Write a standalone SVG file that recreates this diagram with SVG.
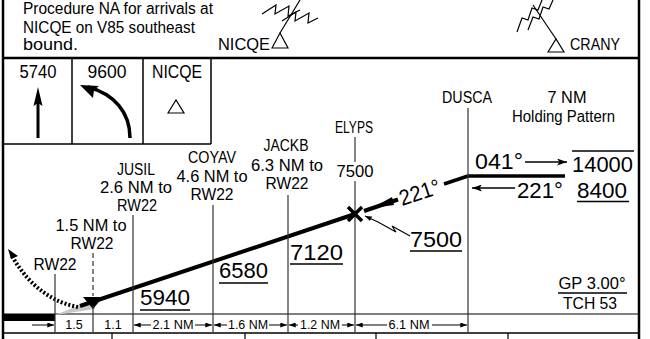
<svg xmlns="http://www.w3.org/2000/svg" width="650" height="339" viewBox="0 0 650 339">
<defs>
<style>
.t{font-family:"Liberation Sans",Arial,sans-serif;fill:#000}
.m{text-anchor:middle}
.f15{font-size:16px}
.f17{font-size:18px}
.f22{font-size:22px}
.f12{font-size:12.5px}
.b{stroke:#000;fill:none}
.v{stroke:#333;stroke-width:1.2;fill:none}
</style>
<marker id="ah" viewBox="0 0 10 7" refX="10" refY="3.5" markerWidth="10" markerHeight="7" markerUnits="userSpaceOnUse" orient="auto">
<path d="M0,0 L10,3.5 L0,7 L2.5,3.5 z" fill="#000"/>
</marker>
<marker id="as" viewBox="0 0 8 6" refX="8" refY="3" markerWidth="7" markerHeight="5" markerUnits="userSpaceOnUse" orient="auto">
<path d="M0,0 L8,3 L0,6 z" fill="#000"/>
</marker>
</defs>
<rect width="650" height="339" fill="#fff"/>

<g id="frame">
<line x1="3" y1="0" x2="3" y2="339" class="b" stroke-width="2.5"/>
<line x1="639" y1="0" x2="639" y2="339" class="b" stroke-width="2.5"/>
<line x1="3" y1="58" x2="639" y2="58" class="b" stroke-width="2.5"/>
<line x1="3" y1="144" x2="211" y2="144" class="b" stroke-width="1.5"/>
<line x1="72" y1="58" x2="72" y2="144" class="b" stroke-width="1.5"/>
<line x1="143" y1="58" x2="143" y2="144" class="b" stroke-width="1.5"/>
<line x1="211" y1="58" x2="211" y2="144" class="b" stroke-width="1.5"/>
<line x1="3" y1="314" x2="639" y2="314" class="b" stroke-width="1.2"/>
<line x1="3" y1="333" x2="639" y2="333" class="b" stroke-width="1.5"/>
<line x1="112" y1="333" x2="112" y2="339" class="b" stroke-width="1.2"/>
<line x1="245" y1="333" x2="245" y2="339" class="b" stroke-width="1.2"/>
<line x1="376" y1="333" x2="376" y2="339" class="b" stroke-width="1.2"/>
<line x1="508" y1="333" x2="508" y2="339" class="b" stroke-width="1.2"/>
<rect x="3" y="314" width="52" height="7" fill="#000"/>
</g>

<g id="note">
<text class="t f15" x="23" y="13.5" textLength="190" lengthAdjust="spacingAndGlyphs">Procedure NA for arrivals at</text>
<text class="t f15" x="23" y="32.5" textLength="172" lengthAdjust="spacingAndGlyphs">NICQE on V85 southeast</text>
<text class="t f15" x="23" y="50" textLength="55" lengthAdjust="spacingAndGlyphs">bound.</text>
</g>

<g id="nicqe-plan">
<text class="t f15" x="218" y="50" textLength="52" lengthAdjust="spacingAndGlyphs">NICQE</text>
<polygon points="272,48 280,33 288,48" class="b" stroke-width="1.2"/>
<line x1="280" y1="33" x2="300" y2="0" class="b" stroke-width="1.2"/>
<polyline points="262,14 276,5 275,14 289,6 288,16 300,10" class="b" stroke-width="1.2"/>
<polyline points="282,21 296,12 295,21 309,13 308,23 318,18" class="b" stroke-width="1.2"/>
</g>

<g id="crany-plan">
<text class="t f15" x="570" y="50" textLength="50" lengthAdjust="spacingAndGlyphs">CRANY</text>
<polygon points="548,52 556,39 564,52" class="b" stroke-width="1.2"/>
<line x1="556" y1="39" x2="533" y2="5" class="b" stroke-width="1.2"/>
<polyline points="517,32 522,18 528,20 532,8 538,10 542,0" class="b" stroke-width="1.2"/>
<polyline points="528,30 533,17 539,19 543,7 549,9 553,0" class="b" stroke-width="1.2"/>
</g>

<g id="box-5740">
<text class="t f17 m" x="38" y="78" textLength="37" lengthAdjust="spacingAndGlyphs">5740</text>
<line x1="38" y1="138" x2="38" y2="100" class="b" stroke-width="3"/>
<polygon points="38,87 33.5,106 38,103 42.5,106" fill="#000"/>
</g>
<g id="box-9600">
<text class="t f17 m" x="107" y="78" textLength="39" lengthAdjust="spacingAndGlyphs">9600</text>
<path d="M130,138 C130,112 114,94 88,87" class="b" stroke-width="3.5"/>
<polygon points="80,85 99,86 94,90 93,98" fill="#000"/>
</g>
<g id="box-nicqe">
<text class="t f17 m" x="177" y="78" textLength="50" lengthAdjust="spacingAndGlyphs">NICQE</text>
<polygon points="168,113 176,100 184,113" class="b" stroke-width="1.2"/>
</g>

<g id="connectors">
<polygon points="55,315 95,299 95,309" fill="#c8c8c8"/>
<line x1="80" y1="306" x2="355" y2="214" class="b" stroke-width="4"/>
<path d="M78,307 C55,303 30,288 12,256" class="b" stroke-width="4" stroke-dasharray="2 2"/>
<polygon points="8,249 18,256 11,259" fill="#000"/>
<line x1="364" y1="211" x2="398" y2="199.5" class="b" stroke-width="4"/>
<polygon points="372,208 392,197 394,205" fill="#000"/>
<line x1="444" y1="184" x2="468" y2="176" class="b" stroke-width="3.5"/>
<line x1="468" y1="176" x2="565" y2="176" class="b" stroke-width="3.5"/>
<line x1="525" y1="162" x2="567" y2="162" class="b" stroke-width="1.5" marker-end="url(#ah)"/>
<line x1="515" y1="188" x2="472" y2="188" class="b" stroke-width="1.5" marker-end="url(#ah)"/>
<polyline points="410,236 392,226 396,232 378,222" class="b" stroke-width="1.1"/>
<line x1="378" y1="222" x2="365" y2="216" class="b" stroke-width="1.1" marker-end="url(#as)"/>
</g>

<g id="fix-rw22">
<text class="t f15 m" x="55" y="270" textLength="43" lengthAdjust="spacingAndGlyphs">RW22</text>
<line x1="55" y1="274" x2="55" y2="333" class="v"/>
</g>
<g id="fix-1-5">
<text class="t f15 m" x="91" y="231" textLength="71" lengthAdjust="spacingAndGlyphs">1.5 NM to</text>
<text class="t f15 m" x="92" y="249" textLength="43" lengthAdjust="spacingAndGlyphs">RW22</text>
<line x1="93" y1="253" x2="93" y2="296" class="v" stroke-dasharray="5 3"/>
<polygon points="83,297 103,297 93,309" fill="#000"/>
<line x1="93" y1="306" x2="93" y2="333" class="v"/>
</g>
<g id="fix-jusil">
<text class="t f15 m" x="136" y="175" textLength="38" lengthAdjust="spacingAndGlyphs">JUSIL</text>
<text class="t f15 m" x="136" y="193" textLength="72" lengthAdjust="spacingAndGlyphs">2.6 NM to</text>
<text class="t f15 m" x="137" y="211" textLength="40" lengthAdjust="spacingAndGlyphs">RW22</text>
<line x1="133" y1="215" x2="133" y2="333" class="v"/>
</g>
<g id="fix-coyav">
<text class="t f15 m" x="212" y="163" textLength="48" lengthAdjust="spacingAndGlyphs">COYAV</text>
<text class="t f15 m" x="212" y="182" textLength="71" lengthAdjust="spacingAndGlyphs">4.6 NM to</text>
<text class="t f15 m" x="212" y="200" textLength="43" lengthAdjust="spacingAndGlyphs">RW22</text>
<line x1="213" y1="205" x2="213" y2="333" class="v"/>
</g>
<g id="fix-jackb">
<text class="t f15 m" x="286" y="151" textLength="45" lengthAdjust="spacingAndGlyphs">JACKB</text>
<text class="t f15 m" x="287" y="171" textLength="72" lengthAdjust="spacingAndGlyphs">6.3 NM to</text>
<text class="t f15 m" x="287" y="189" textLength="43" lengthAdjust="spacingAndGlyphs">RW22</text>
<line x1="288" y1="195" x2="288" y2="333" class="v"/>
</g>
<g id="fix-elyps">
<text class="t f15 m" x="354" y="133" textLength="38" lengthAdjust="spacingAndGlyphs">ELYPS</text>
<text class="t f15 m" x="355" y="177" textLength="37" lengthAdjust="spacingAndGlyphs">7500</text>
<line x1="355" y1="137" x2="355" y2="162" class="v"/>
<line x1="355" y1="181" x2="355" y2="333" class="v"/>
<path d="M348,207 L362,221 M362,207 L348,221" class="b" stroke-width="3.5"/>
</g>
<g id="fix-dusca">
<text class="t f15 m" x="467" y="103" textLength="50" lengthAdjust="spacingAndGlyphs">DUSCA</text>
<line x1="468" y1="108" x2="468" y2="333" class="v"/>
</g>

<g id="holding">
<text class="t f15 m" x="567" y="103" textLength="39" lengthAdjust="spacingAndGlyphs">7 NM</text>
<text class="t f15 m" x="563.5" y="122" textLength="103" lengthAdjust="spacingAndGlyphs">Holding Pattern</text>
<text class="t f22" x="475" y="169" textLength="48" lengthAdjust="spacingAndGlyphs">041°</text>
<text class="t f22" x="517" y="198" textLength="46" lengthAdjust="spacingAndGlyphs">221°</text>
<text class="t f22" x="572" y="172" textLength="61" lengthAdjust="spacingAndGlyphs">14000</text>
<line x1="572" y1="151" x2="634" y2="151" class="b" stroke-width="1.3"/>
<text class="t f22" x="577" y="198" textLength="50" lengthAdjust="spacingAndGlyphs">8400</text>
<line x1="577" y1="201.5" x2="629" y2="201.5" class="b" stroke-width="1.3"/>
</g>

<g id="course-221">
<text class="t f22" transform="translate(402,206) rotate(-18)" textLength="42" lengthAdjust="spacingAndGlyphs">221°</text>
</g>

<g id="altitudes">
<text class="t f22" x="140" y="305" textLength="50" lengthAdjust="spacingAndGlyphs">5940</text>
<line x1="140" y1="310" x2="190" y2="310" class="b" stroke-width="1.3"/>
<text class="t f22" x="219" y="278" textLength="49" lengthAdjust="spacingAndGlyphs">6580</text>
<line x1="219" y1="283" x2="268" y2="283" class="b" stroke-width="1.3"/>
<text class="t f22" x="290" y="260" textLength="53" lengthAdjust="spacingAndGlyphs">7120</text>
<line x1="290" y1="264" x2="343" y2="264" class="b" stroke-width="1.3"/>
<text class="t f22" x="410" y="247" textLength="52" lengthAdjust="spacingAndGlyphs">7500</text>
<line x1="410" y1="251" x2="462" y2="251" class="b" stroke-width="1.3"/>
</g>

<g id="gp">
<text class="t m" font-size="16.5" x="592" y="289" textLength="67" lengthAdjust="spacingAndGlyphs">GP 3.00°</text>
<line x1="558" y1="293" x2="627" y2="293" class="b" stroke-width="1.3"/>
<text class="t m" font-size="16.5" x="590" y="309" textLength="54" lengthAdjust="spacingAndGlyphs">TCH 53</text>
</g>

<g id="distances">
<line x1="32" y1="325" x2="54" y2="325" class="b" stroke-width="1" marker-end="url(#as)"/>
<text class="t f12 m" x="74" y="329">1.5</text>
<text class="t f12 m" x="113" y="329">1.1</text>
<line x1="151" y1="325" x2="134" y2="325" class="b" stroke-width="1" marker-end="url(#as)"/>
<text class="t f12 m" x="173" y="329" textLength="41" lengthAdjust="spacingAndGlyphs">2.1 NM</text>
<line x1="195" y1="325" x2="212" y2="325" class="b" stroke-width="1" marker-end="url(#as)"/>
<line x1="227" y1="325" x2="214" y2="325" class="b" stroke-width="1" marker-end="url(#as)"/>
<text class="t f12 m" x="248" y="329" textLength="40" lengthAdjust="spacingAndGlyphs">1.6 NM</text>
<line x1="269" y1="325" x2="287" y2="325" class="b" stroke-width="1" marker-end="url(#as)"/>
<line x1="298" y1="325" x2="289" y2="325" class="b" stroke-width="1" marker-end="url(#as)"/>
<text class="t f12 m" x="320" y="329" textLength="40" lengthAdjust="spacingAndGlyphs">1.2 NM</text>
<line x1="342" y1="325" x2="354" y2="325" class="b" stroke-width="1" marker-end="url(#as)"/>
<line x1="387" y1="325" x2="356" y2="325" class="b" stroke-width="1" marker-end="url(#as)"/>
<text class="t f12 m" x="409" y="329" textLength="41" lengthAdjust="spacingAndGlyphs">6.1 NM</text>
<line x1="432" y1="325" x2="467" y2="325" class="b" stroke-width="1" marker-end="url(#as)"/>
</g>
</svg>
